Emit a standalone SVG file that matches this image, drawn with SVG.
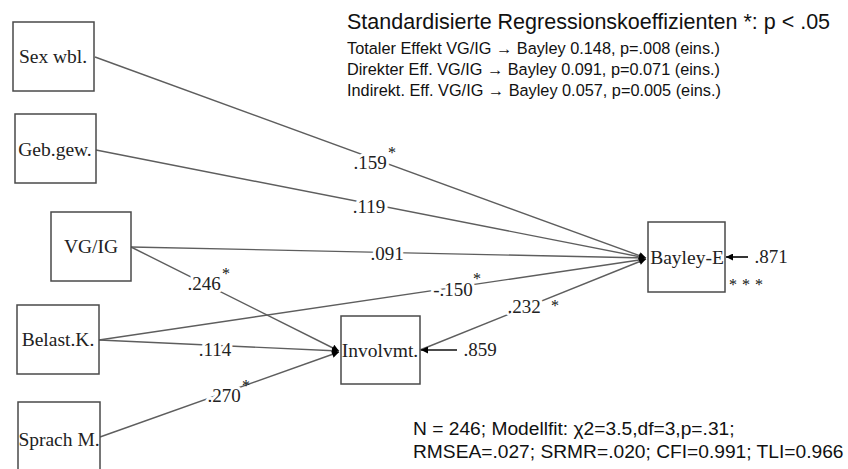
<svg xmlns="http://www.w3.org/2000/svg" width="848" height="469" viewBox="0 0 848 469">
  <style>
    .box { fill: #ffffff; stroke: #4a4a4a; stroke-width: 1.5; }
    .node { font-family: "Liberation Serif", "Times New Roman", serif; font-size: 19.5px; fill: #222; text-anchor: middle; }
    .path { fill: none; stroke: #5e5e5e; stroke-width: 1.4; }
    .res { fill: none; stroke: #111; stroke-width: 1.7; }
    .coef { font-family: "Liberation Serif", "Times New Roman", serif; font-size: 19px; fill: #222; text-anchor: middle; stroke: #fff; stroke-width: 6; paint-order: stroke; stroke-linejoin: round; }
    .star { font-family: "Liberation Serif", "Times New Roman", serif; font-size: 16px; fill: #111; }
    .note { font-family: "Liberation Sans", Arial, sans-serif; fill: #111; }
  </style>
  <defs>
    <marker id="head" viewBox="0 0 10 10" refX="10" refY="5" markerWidth="9" markerHeight="7" markerUnits="userSpaceOnUse" orient="auto">
      <path d="M0,0 L10,5 L0,10 z" fill="#000"/>
    </marker>
  </defs>
  <rect width="848" height="469" fill="#fff"/>

  <!-- path connectors -->
  <g id="connectors">
    <line class="path" x1="95" y1="57" x2="646" y2="258" marker-end="url(#head)"/>
    <line class="path" x1="96" y1="150" x2="646" y2="258" marker-end="url(#head)"/>
    <line class="path" x1="131" y1="247" x2="646" y2="258" marker-end="url(#head)"/>
    <line class="path" x1="99" y1="340" x2="646" y2="259" marker-end="url(#head)"/>
    <line class="path" x1="420" y1="350" x2="646" y2="259" marker-end="url(#head)"/>
    <line class="path" x1="131" y1="247" x2="339" y2="351" marker-end="url(#head)"/>
    <line class="path" x1="99" y1="340" x2="339" y2="351" marker-end="url(#head)"/>
    <line class="path" x1="100" y1="437" x2="339" y2="352" marker-end="url(#head)"/>
    <!-- residual terms -->
    <line class="res" x1="748" y1="257" x2="726" y2="257" marker-end="url(#head)"/>
    <line class="res" x1="457" y1="350" x2="421" y2="350" marker-end="url(#head)"/>

    <!-- coefficients -->
    <text class="coef" x="370" y="169">.159</text><text class="star" x="388" y="158">*</text>
    <text class="coef" x="369" y="213">.119</text>
    <text class="coef" x="387" y="260">.091</text>
    <text class="coef" x="204" y="290">.246</text><text class="star" x="222" y="279">*</text>
    <text class="coef" x="453" y="296">-.150</text><text class="star" x="473" y="284">*</text>
    <text class="coef" x="524" y="313">.232</text><text class="star" x="551" y="311">*</text>
    <text class="coef" x="215" y="356">.114</text>
    <text class="coef" x="224" y="402">.270</text><text class="star" x="242" y="391">*</text>
    <text class="coef" x="771" y="263">.871</text>
    <text class="coef" x="480" y="356">.859</text>
    <text class="star" x="729" y="290" letter-spacing="5">***</text>
  </g>

  <g id="sex">
    <rect class="box" x="13" y="22" width="81" height="69"/>
    <text class="node" x="53" y="63">Sex wbl.</text>
  </g>
  <g id="gebgew">
    <rect class="box" x="15" y="114" width="81" height="69"/>
    <text class="node" x="55" y="156">Geb.gew.</text>
  </g>
  <g id="vgig">
    <rect class="box" x="51" y="212" width="80" height="69"/>
    <text class="node" x="91" y="253">VG/IG</text>
  </g>
  <g id="belast">
    <rect class="box" x="17" y="305" width="82" height="69"/>
    <text class="node" x="58" y="346">Belast.K.</text>
  </g>
  <g id="sprach">
    <rect class="box" x="18" y="402" width="82" height="80"/>
    <text class="node" x="59" y="446">Sprach M.</text>
  </g>
  <g id="involvmt">
    <rect class="box" x="341" y="316" width="79" height="68"/>
    <text class="node" x="380" y="357">Involvmt.</text>
  </g>
  <g id="bayley">
    <rect class="box" x="648" y="222" width="77" height="70"/>
    <text class="node" x="687" y="264">Bayley-E</text>
  </g>

  <!-- legend and model fit -->
  <text class="note" x="347" y="29" font-size="21.5">Standardisierte Regressionskoeffizienten *: p &lt; .05</text>
  <text class="note" x="347" y="54" font-size="16.3">Totaler Effekt VG/IG → Bayley 0.148, p=.008 (eins.)</text>
  <text class="note" x="347" y="75" font-size="16.3">Direkter Eff. VG/IG → Bayley 0.091, p=0.071 (eins.)</text>
  <text class="note" x="347" y="96" font-size="16.3">Indirekt. Eff. VG/IG → Bayley 0.057, p=0.005 (eins.)</text>
  <text class="note" x="413" y="435" font-size="19.2">N = 246; Modellfit: χ2=3.5,df=3,p=.31;</text>
  <text class="note" x="413" y="458" font-size="19.2">RMSEA=.027; SRMR=.020; CFI=0.991; TLI=0.966</text>
</svg>
